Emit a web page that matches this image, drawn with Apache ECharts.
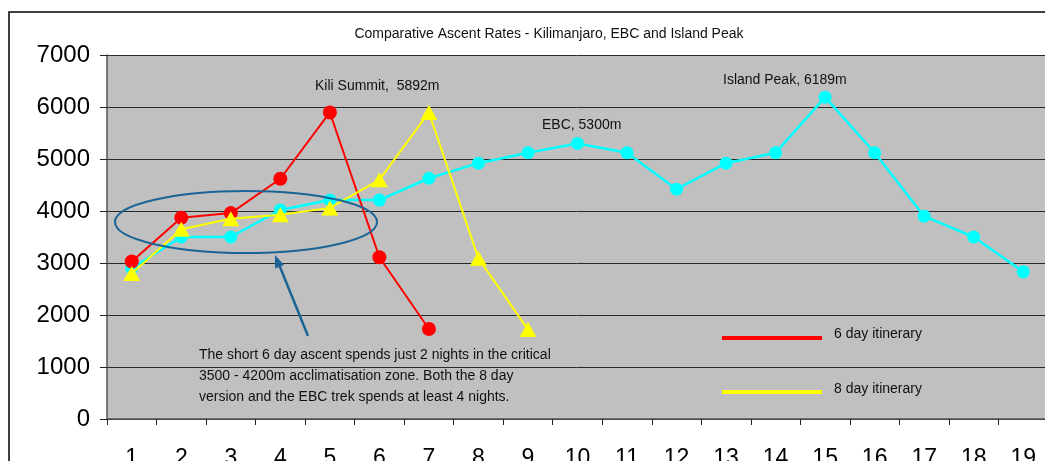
<!DOCTYPE html>
<html>
<head>
<meta charset="utf-8">
<title>Comparative Ascent Rates</title>
<script src="https://cdn.jsdelivr.net/npm/echarts@6/dist/echarts.min.js"></script>
<style>
  html, body { margin: 0; padding: 0; background: #fff; }
  #chart { width: 1045px; height: 461px; }
</style>
</head>
<body>
<div id="chart"></div>
<script>
// day numbers along the x axis
var days = ['1', '2', '3', '4', '5', '6', '7', '8', '9', '10',
  '11', '12', '13', '14', '15', '16', '17', '18', '19'];
// altitude (m) for each night / day
var sixDay = [3030, 3870, 3960, 4620, 5895, 3110, 1730];
var eightDay = [2800, 3650, 3850, 3930, 4060, 4600, 5895, 3090, 1720];
var ebcIsland = [2900, 3500, 3500, 4020, 4210, 4210, 4630, 4920, 5120, 5300,
  5120, 4420, 4920, 5120, 6189, 5120, 3900, 3500, 2830];
var yTicks = [0, 7000, 1000]; // min, max, step

var chart = echarts.init(document.getElementById('chart'));
var ff = '"Liberation Sans", Arial, sans-serif';

var option = {
  animation: false,
  backgroundColor: '#ffffff',
  title: {
    text: 'Comparative Ascent Rates - Kilimanjaro, EBC and Island Peak',
    left: 544, top: 22, textAlign: 'center',
    textStyle: { fontFamily: ff, fontSize: 14, fontWeight: 'normal', color: '#111' }
  },
  grid: {
    left: 107, top: 55, width: 941, height: 364,
    outerBoundsMode: 'none', containLabel: false,
    backgroundColor: '#c0c0c0', show: true, borderWidth: 0
  },
  xAxis: {
    type: 'category',
    data: days,
    boundaryGap: true,
    axisLine: { lineStyle: { color: '#555', width: 1.5 } },
    axisTick: { show: true, length: 6, lineStyle: { color: '#222' } },
    axisLabel: { fontFamily: ff, fontSize: 23, color: '#000', margin: 28 }
  },
  yAxis: {
    type: 'value',
    min: yTicks[0], max: yTicks[1], interval: yTicks[2],
    axisLine: { show: true, lineStyle: { color: '#555', width: 1.5 } },
    axisTick: { show: true, length: 7, lineStyle: { color: '#222' } },
    axisLabel: {
      fontFamily: ff, fontSize: 24, color: '#000', margin: 17, padding: [4, 0, 0, 0],
      formatter: function (v) { return String(v); }
    },
    splitLine: { lineStyle: { color: '#2a2a2a', width: 1 } }
  },
  series: [
    {
      name: 'EBC and Island Peak', type: 'line', data: ebcIsland,
      symbol: 'circle', symbolSize: 13, z: 2,
      itemStyle: { color: '#00ffff' },
      lineStyle: { color: '#00ffff', width: 2.5 }
    },
    {
      name: '6 day itinerary', type: 'line', data: sixDay,
      symbol: 'circle', symbolSize: 14, z: 3,
      itemStyle: { color: '#ff0000' },
      lineStyle: { color: '#ff0000', width: 2 }
    },
    {
      name: '8 day itinerary', type: 'line', data: eightDay,
      symbol: 'triangle', symbolSize: [17, 15], z: 4,
      itemStyle: { color: '#ffff00' },
      lineStyle: { color: '#ffff00', width: 2 }
    }
  ],
  graphic: [
    // outer chart border
    { type: 'rect', shape: { x: 9, y: 12, width: 1060, height: 470 }, style: { fill: 'none', stroke: '#000', lineWidth: 1.5 }, z: 100 },
    // annotations
    { type: 'text', left: 315, top: 79, style: { text: 'Kili Summit,  5892m', font: '14px ' + ff, fill: '#111' }, z: 100 },
    { type: 'text', left: 542, top: 118, style: { text: 'EBC, 5300m', font: '14px ' + ff, fill: '#111' }, z: 100 },
    { type: 'text', left: 723, top: 73, style: { text: 'Island Peak, 6189m', font: '14px ' + ff, fill: '#111' }, z: 100 },
    // acclimatisation zone ellipse and arrow
    { type: 'ellipse', shape: { cx: 246, cy: 222, rx: 131, ry: 31 }, style: { fill: 'none', stroke: '#1a6496', lineWidth: 2 }, z: 100 },
    { type: 'line', shape: { x1: 308, y1: 336, x2: 278, y2: 262 }, style: { stroke: '#1a6496', lineWidth: 2.5 }, z: 100 },
    { type: 'polygon', shape: { points: [[275, 255], [284, 265], [275, 268.5]] }, style: { fill: '#1a6496' }, z: 100 },
    {
      type: 'text', left: 199, top: 345, z: 100,
      style: {
        text: 'The short 6 day ascent spends just 2 nights in the critical\n3500 - 4200m acclimatisation zone. Both the 8 day\nversion and the EBC trek spends at least 4 nights.',
        font: '14px ' + ff, lineHeight: 21, fill: '#111'
      }
    },
    // legend
    { type: 'line', shape: { x1: 722, y1: 338, x2: 822, y2: 338 }, style: { stroke: '#ff0000', lineWidth: 4 }, z: 100 },
    { type: 'text', left: 834, top: 327, style: { text: '6 day itinerary', font: '14px ' + ff, fill: '#111' }, z: 100 },
    { type: 'line', shape: { x1: 722, y1: 392, x2: 822, y2: 392 }, style: { stroke: '#ffff00', lineWidth: 4 }, z: 100 },
    { type: 'text', left: 834, top: 382, style: { text: '8 day itinerary', font: '14px ' + ff, fill: '#111' }, z: 100 }
  ]
};

chart.setOption(option);
</script>
</body>
</html>
